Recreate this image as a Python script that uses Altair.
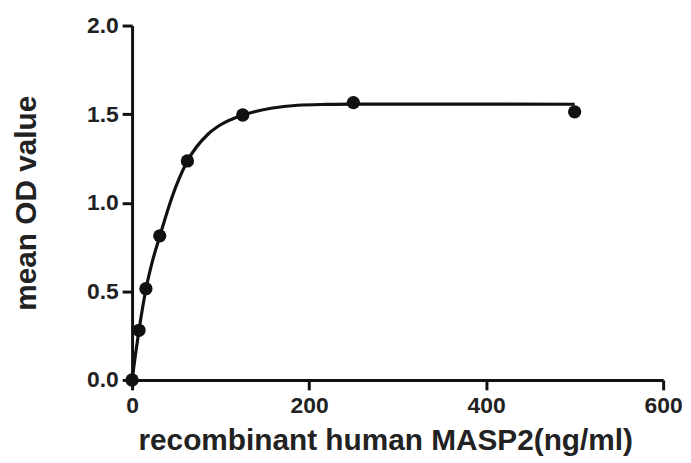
import altair as alt
import pandas as pd

# measured points
conc = [0, 7.8125, 15.625, 31.25, 62.5, 125, 250, 500]
od = [0.0, 0.28, 0.515, 0.813, 1.236, 1.495, 1.565, 1.513]

# fitted curve
curve_x = [0, 4, 7.8, 15.6, 23, 31.25, 45, 62.5, 86, 100, 125, 157, 187, 220, 250, 300, 400, 500]
curve_y = [0.0, 0.15, 0.28, 0.51, 0.67, 0.81, 1.03, 1.235, 1.388, 1.44, 1.495, 1.533, 1.55, 1.555, 1.557, 1.557, 1.557, 1.556]

x_ticks = [0, 200, 400, 600]
y_ticks = [0.0, 0.5, 1.0, 1.5, 2.0]

pts = pd.DataFrame({"x": conc, "y": od})
fit = pd.DataFrame({"x": curve_x, "y": curve_y})

FONT = "Liberation Sans"

xscale = alt.Scale(domain=[0, 600], nice=False, zero=True)
yscale = alt.Scale(domain=[0, 2.0], nice=False, zero=True)

xaxis = alt.Axis(
    title="recombinant human MASP2(ng/ml)",
    values=x_ticks, format="d", grid=False,
    domainColor="#111", domainWidth=3, tickColor="#111", tickWidth=3, tickSize=10,
    labelFont=FONT, labelFontSize=23, labelFontWeight="bold", labelColor="#222",
    labelPadding=5, labelFlush=False,
    titleFont=FONT, titleFontSize=30, titleFontWeight="bold", titleColor="#222",
    titlePadding=8, titleX=255, titleAnchor="middle",
)
yaxis = alt.Axis(
    title="mean OD value",
    values=y_ticks, format=".1f", grid=False,
    domainColor="#111", domainWidth=3, tickColor="#111", tickWidth=3, tickSize=10,
    labelFont=FONT, labelFontSize=23, labelFontWeight="bold", labelColor="#222",
    labelPadding=4, labelFlush=False,
    titleFont=FONT, titleFontSize=30, titleFontWeight="bold", titleColor="#222",
    titlePadding=45,
)

line = alt.Chart(fit).mark_line(color="#111", strokeWidth=3.2, interpolate="monotone").encode(
    x=alt.X("x:Q", scale=xscale, axis=xaxis),
    y=alt.Y("y:Q", scale=yscale, axis=yaxis),
)
dots = alt.Chart(pts).mark_point(filled=True, color="#111", size=180, opacity=1, shape="circle").encode(
    x=alt.X("x:Q", scale=xscale),
    y=alt.Y("y:Q", scale=yscale),
)

chart = alt.layer(line, dots).properties(
    width=535, height=357,
    autosize=alt.AutoSizeParams(type="none"),
    padding={"left": 125, "top": 16, "right": 20, "bottom": 80},
    background="white",
).configure_view(stroke=None)

chart.save("out.html", embed_options={"renderer": "svg", "actions": False})
